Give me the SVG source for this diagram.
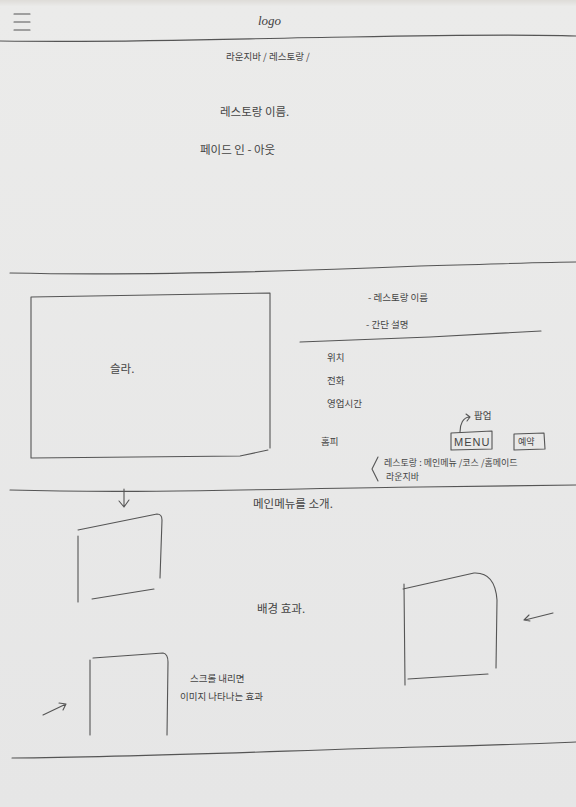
<svg xmlns="http://www.w3.org/2000/svg" width="576" height="807" viewBox="0 0 576 807">
<defs>
<style>
.pen{fill:none;stroke:#555;stroke-width:1.1;stroke-linecap:round;stroke-linejoin:round}
.t{font-family:"Noto Sans CJK KR","Noto Sans",sans-serif;font-size:11.5px;fill:#444}
.s{font-size:9.5px}
.lg{font-family:"Liberation Serif",serif;font-style:italic;font-size:13px;fill:#444}
</style>
<linearGradient id="paper" x1="0" y1="0" x2="0" y2="1">
<stop offset="0" stop-color="#dedcd8"/>
<stop offset="0.008" stop-color="#ebebea"/>
<stop offset="1" stop-color="#e6e6e6"/>
</linearGradient>
</defs>
<rect width="576" height="807" fill="url(#paper)"/>

<g id="header">
<path class="pen" d="M14 14H30M14 22H30M14 30H30"/>
<text class="lg" x="258" y="25">logo</text>
</g>

<g id="breadcrumb"><text class="t s" x="226" y="60">라운지바 / 레스토랑 /</text></g>
<g id="title"><text class="t" x="220" y="116">레스토랑 이름.</text></g>
<g id="fade"><text class="t" x="200" y="154">페이드 인 - 아웃</text></g>

<g id="slider">
<path class="pen" d="M31 297L270 293M270 293L270 448M31 297L31 458M31 458L240 456L268 450"/>
<text class="t" x="110" y="373">슬라.</text>
</g>

<g id="info">
<text class="t s" x="368" y="301">- 레스토랑 이름</text>
<text class="t s" x="366" y="328">- 간단 설명</text>
<text class="t s" x="327" y="361">위치</text>
<text class="t s" x="327" y="384">전화</text>
<text class="t s" x="327" y="407">영업시간</text>
<text class="t s" x="321" y="445">홈피</text>
</g>

<g id="popup"><text class="t s" x="474" y="419">팝업</text></g>

<g id="menu">
<path class="pen" d="M451 433L492 431L492 449L451 450Z"/>
<text class="t" x="454" y="446" style="font-family:'Liberation Sans',sans-serif;letter-spacing:1px;font-size:11px">MENU</text>
</g>

<g id="reserve">
<path class="pen" d="M514 434L544 433L545 449L514 450Z"/>
<text class="t s" x="518" y="445" style="font-size:9px">예약</text>
</g>

<g id="menu-note">
<path class="pen" d="M378 457L372 469L378 481"/>
<text class="t s" x="384" y="466" style="font-size:9px">레스토랑 : 메인메뉴 /코스 /홈메이드</text>
<text class="t s" x="386" y="480" style="font-size:9px">라운지바</text>
</g>

<g id="intro"><text class="t" x="253" y="508">메인메뉴를 소개.</text></g>
<g id="bg-effect"><text class="t" x="257" y="613">배경 효과.</text></g>
<g id="scroll-note">
<text class="t s" x="190" y="682">스크롤 내리면</text>
<text class="t s" x="180" y="700">이미지 나타나는 효과</text>
</g>

<g id="box1"><path class="pen" d="M78 536L78 602M78 530L157 514Q162 514 162 520L160 578M92 599L154 589"/></g>
<g id="box2"><path class="pen" d="M404 584L405 685M403 589L474 573Q495 572 497 600L496 668M408 679L488 674"/></g>
<g id="box3"><path class="pen" d="M90 660L90 735M93 658L163 653Q168 654 168 662L167 735"/></g>

<g id="connectors">
<path class="pen" d="M0 41C150 43 250 38 350 37C450 35 520 34 576 36"/>
<path class="pen" d="M10 273C150 276 300 271 420 266C500 264 550 262 576 262"/>
<path class="pen" d="M300 342L430 337L541 331"/>
<path class="pen" d="M10 490C150 494 300 488 420 487C500 486 550 485 576 485"/>
<path class="pen" d="M12 758C150 757 300 750 420 747C500 745 550 743 576 742"/>
<path class="pen" d="M124 489L124 507M119 501L124 507L129 500"/>
<path class="pen" d="M460 432C460 424 463 417 470 417M466 414L470 417L467 421"/>
<path class="pen" d="M553 613L525 620M529 615L524 620L530 621"/>
<path class="pen" d="M43 715L66 704M59 703L66 704L63 710"/>
</g>
</svg>
